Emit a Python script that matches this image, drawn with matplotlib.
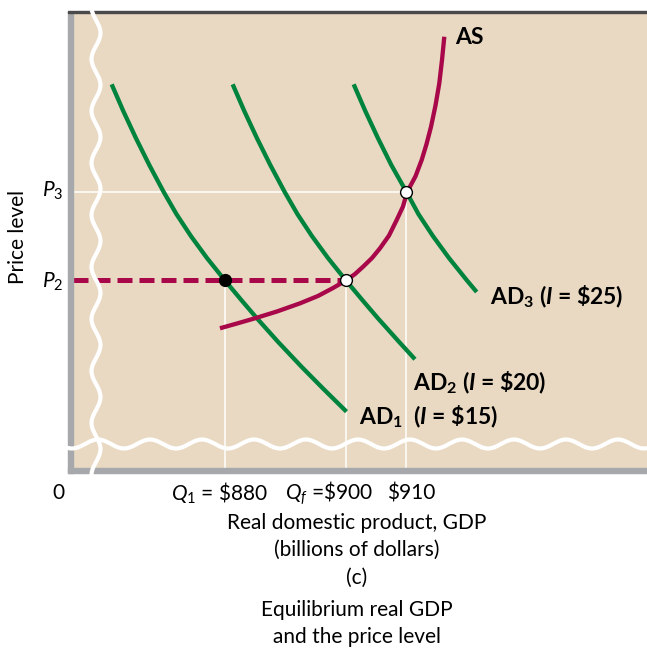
import numpy as np
import matplotlib.pyplot as plt
from matplotlib.patches import Rectangle

plt.rcParams["font.family"] = ["Lato", "DejaVu Sans"]
plt.rcParams["mathtext.fontset"] = "custom"
plt.rcParams["mathtext.rm"] = "Lato"
plt.rcParams["mathtext.it"] = "Lato:italic"
plt.rcParams["mathtext.bf"] = "Lato:bold"
plt.rcParams["mathtext.bfit"] = "Lato:bold:italic"

# --- data: real GDP (billions) and price level ---
ad1_gdp = [861.27, 863.19, 865.27, 867.49, 869.87, 871.97, 874.36, 877.02,
           880.0, 882.69, 885.24, 888.79, 892.64, 896.28, 900.08]
ad1_price = [122.17, 119.15, 116.10, 113.05, 110.0, 107.51, 105.03, 102.54,
             100.0, 97.80, 95.76, 93.05, 90.26, 87.74, 85.18]

ad2_gdp = [881.27, 883.19, 885.27, 887.49, 889.87, 891.97, 894.36, 897.02,
           900.0, 902.69, 905.24, 908.79, 911.4]
ad2_price = [122.17, 119.15, 116.10, 113.05, 110.0, 107.51, 105.03, 102.54,
             100.0, 97.80, 95.76, 93.05, 91.1]

ad3_gdp = [901.27, 903.19, 905.27, 907.49, 910.0, 911.97, 914.36, 917.02,
           920.0, 921.6]
ad3_price = [122.17, 119.15, 116.10, 113.05, 110.0, 107.51, 105.03, 102.54,
             100.0, 98.7]

as_gdp = [879.17, 881.98, 884.96, 888.60, 892.40, 895.37, 897.85, 900.0,
          901.49, 902.81, 904.30, 905.62, 907.11, 908.38, 909.42, 910.1,
          911.49, 912.51, 913.31, 914.05, 914.79, 915.42, 915.87, 916.25]
as_price = [94.60, 95.14, 95.73, 96.50, 97.42, 98.25, 99.15, 100.0,
            100.73, 101.55, 102.54, 103.64, 105.08, 106.84, 108.36, 110.0,
            111.78, 113.62, 115.42, 117.37, 119.77, 122.28, 124.92, 127.55]

q1, qf, q3 = 880, 900, 910
p2, p3 = 100, 110

GREEN = "#00843D"
RED = "#A8084A"
TAN = "#E9D9C2"
GRAY = "#A6A8AB"

W, H = 647, 650
fig = plt.figure(figsize=(W / 100, H / 100), dpi=100)

# plot area in pixels
L, R, T, B = 73, 647, 13, 468
ax = fig.add_axes([L / W, 1 - B / H, (R - L) / W, (B - T) / H])
ax.set_facecolor(TAN)
ax.set_xlim(854.88, 949.75)
ax.set_ylim(78.81, 130.23)
for s in ax.spines.values():
    s.set_visible(False)
ax.set_xticks([])
ax.set_yticks([])


def axfrac(px, py):
    return (np.asarray(px) - L) / (R - L), (B - np.asarray(py)) / (B - T)


# axis bars
x0, y0 = axfrac(68, 473)
ax.add_patch(Rectangle((x0, y0), 5 / (R - L), 461 / (B - T), transform=ax.transAxes,
                       color=GRAY, clip_on=False, zorder=3))
ax.add_patch(Rectangle((x0, y0), 579 / (R - L), 5 / (B - T), transform=ax.transAxes,
                       color=GRAY, clip_on=False, zorder=3))
ax.add_patch(Rectangle((x0, 1), 579 / (R - L), 2 / (B - T), transform=ax.transAxes,
                       color="#4A4A4A", clip_on=False, zorder=3))

# guide lines
ax.plot([q1, q1], [78.81, p2], color="white", lw=1.1, zorder=1)
ax.plot([qf, qf], [78.81, p2], color="white", lw=1.1, zorder=1)
ax.plot([q3, q3], [78.81, p3], color="white", lw=1.1, zorder=1)
ax.plot([854.88, q3], [p3, p3], color="white", lw=1.1, zorder=1)
ax.plot([854.88, qf], [p2, p2], color=RED, lw=3.6, dashes=(3, 1.4),
        solid_capstyle="butt", dash_capstyle="butt", zorder=2)

# curves
for gx, gy in [(ad1_gdp, ad1_price), (ad2_gdp, ad2_price), (ad3_gdp, ad3_price)]:
    ax.plot(gx, gy, color=GREEN, lw=3.1, solid_capstyle="butt",
            solid_joinstyle="round", zorder=4)
ax.plot(as_gdp, as_price, color=RED, lw=3.1, solid_capstyle="butt",
        solid_joinstyle="round", zorder=4)

# equilibrium points
ax.plot([q1], [p2], "o", ms=8.5, color="black", zorder=6)
ax.plot([qf, q3], [p2, p3], "o", ms=8.5, mfc="white", mec="black", mew=1.0, zorder=6)

# axis break marks
vy = np.linspace(12, 474, 400)
vx = 96 + 4.5 * np.cos(2 * np.pi * (vy - 33) / 52)
ax.plot(*axfrac(vx, vy), transform=ax.transAxes, color="white", lw=3.0,
        clip_on=False, zorder=5)
hx = np.linspace(68, 647, 500)
hy = 444 - 4.5 * np.cos(2 * np.pi * (hx - 410) / 52)
ax.plot(*axfrac(hx, hy), transform=ax.transAxes, color="white", lw=3.0,
        clip_on=False, zorder=5)


def ftext(px, py, s, **kw):
    kw.setdefault("va", "center")
    kw.setdefault("fontsize", 15)
    fig.text(px / W, 1 - py / H, s, **kw)


# curve labels
ftext(455, 37, "AS", fontweight="bold", fontsize=16.5)
ftext(490, 297, r"AD$_\mathbf{3}$ ($\mathbfit{I}$ = \$25)", fontweight="bold", fontsize=16.5)
ftext(413, 383, r"AD$_\mathbf{2}$ ($\mathbfit{I}$ = \$20)", fontweight="bold", fontsize=16.5)
ftext(359, 417, r"AD$_\mathbf{1}$  ($\mathbfit{I}$ = \$15)", fontweight="bold", fontsize=16.5)

# axis labels
ftext(58, 493, "0", ha="center")
ftext(171, 493, r"$Q_\mathrm{1}$ = \$880")
ftext(285, 493, r"$Q_f$ =\$900")
ftext(387, 493, r"\$910")
ftext(42, 191, r"$P_\mathrm{3}$")
ftext(42, 282, r"$P_\mathrm{2}$")
ftext(18, 237, "Price level", ha="center", rotation=90)

for py, s in [(523, "Real domestic product, GDP"),
              (550, "(billions of dollars)"),
              (578, "(c)"),
              (610, "Equilibrium real GDP"),
              (637, "and the price level")]:
    ftext(357, py, s, ha="center")

fig.savefig("out.png", dpi=100, facecolor="white")
